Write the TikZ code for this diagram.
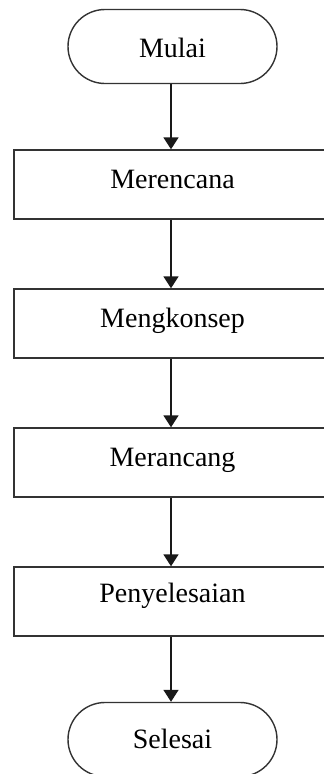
\documentclass[tikz,border=0pt]{standalone}
\usepackage{fontspec}
\setmainfont{Liberation Serif}
\usetikzlibrary{arrows.meta}

\tikzset{
  frame/.style={draw=black!80, line width=1.4pt, fill=white},
  stepbox/.style={frame, minimum width=314pt, minimum height=69pt, inner sep=0pt},
  terminal/.style={frame, rounded corners=37pt, minimum width=209pt, minimum height=74pt, inner sep=0pt},
  caption/.style={anchor=base, inner sep=0pt, font=\fontsize{28}{32}\selectfont, text=black},
  flow/.style={draw=black!90, line width=1.6pt, -{Triangle[length=12pt,width=15pt]}}
}

\begin{document}
\begin{tikzpicture}[x=1pt, y=-1pt]
  \useasboundingbox (0,0) rectangle (324,774);
  \clip (0,0) rectangle (324,774);

  % shapes of the process chain
  \node[terminal] (t1) at (172.5,46.5) {};
  \node[stepbox]  (r1) at (171,184.5) {};
  \node[stepbox]  (r2) at (171,323.5) {};
  \node[stepbox]  (r3) at (171,462.5) {};
  \node[stepbox]  (r4) at (171,601.5) {};
  \node[terminal] (t2) at (172.5,739.5) {};

  % labels, set on their baselines
  \node[caption] (l1) at (172.5,57)  {Mulai};
  \node[caption] (l2) at (172.5,188) {Merencana};
  \node[caption] (l3) at (172.5,327) {Mengkonsep};
  \node[caption] (l4) at (172.5,466) {Merancang};
  \node[caption] (l5) at (172.5,602) {Penyelesaian};
  \node[caption] (l6) at (172.5,748) {Selesai};

  % connectors
  \draw[flow] (r1.north |- t1.south) -- (r1.north);
  \draw[flow] (r1.south) -- (r2.north);
  \draw[flow] (r2.south) -- (r3.north);
  \draw[flow] (r3.south) -- (r4.north);
  \draw[flow] (r4.south) -- (r4.south |- t2.north);
\end{tikzpicture}
\end{document}
